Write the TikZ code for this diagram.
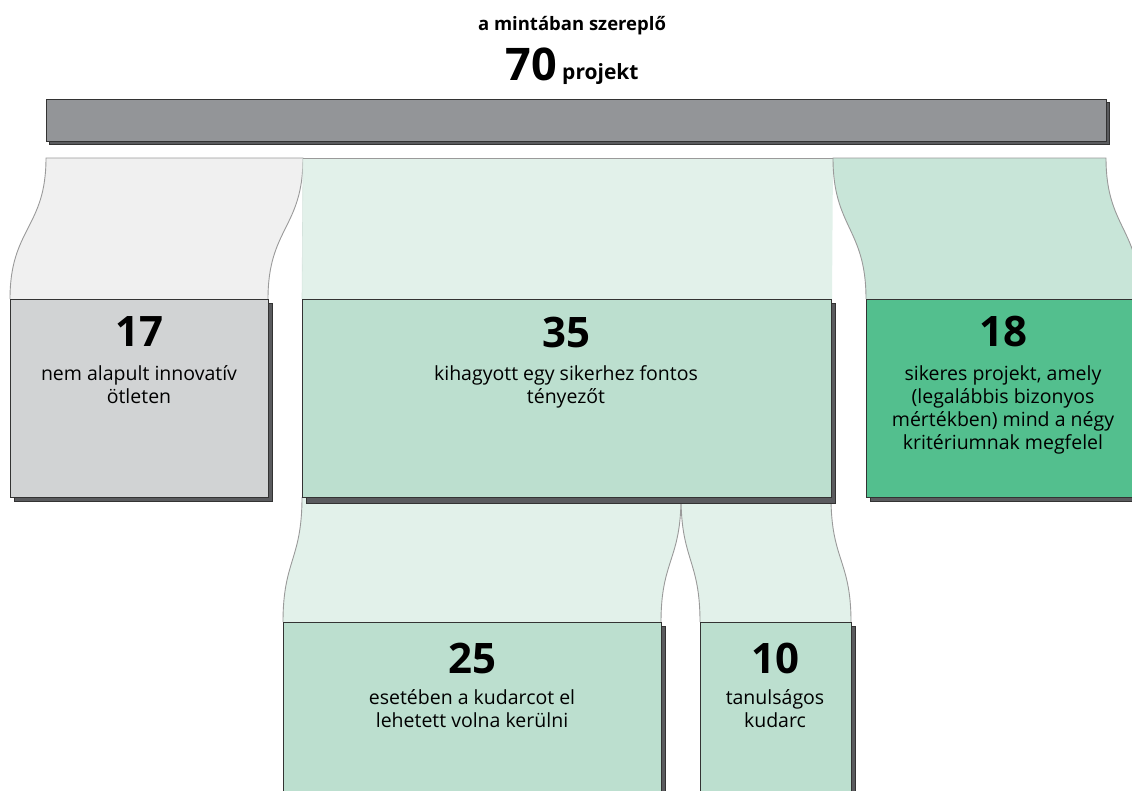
\documentclass[tikz,border=0pt]{standalone}
\usepackage{fontspec}
\setmainfont{Open Sans}
\definecolor{barfill}{HTML}{939598}
\definecolor{edgedark}{HTML}{333333}
\definecolor{shadowc}{HTML}{5A5B5E}
\definecolor{bandgray}{HTML}{F0F0F0}
\definecolor{bandgreen}{HTML}{E2F1EA}
\definecolor{bandgreenB}{HTML}{C8E5D8}
\definecolor{boxgray}{HTML}{D1D3D4}
\definecolor{boxgreen}{HTML}{BCDFCF}
\definecolor{boxdeep}{HTML}{53BF8E}
\definecolor{bandedge}{HTML}{9A9A9A}
\tikzset{
  shadowbox/.style={fill=shadowc, draw=edgedark, line width=0.8pt},
  mainbox/.style={draw=edgedark, line width=1.2pt},
  bandline/.style={draw=bandedge, line width=0.9pt},
  numtxt/.style={font=\fontsize{42}{42}\selectfont\bfseries, inner sep=0pt},
  desctxt/.style={font=\fontsize{19.5}{23.3}\selectfont, align=center, inner sep=0pt, anchor=north},
}
\begin{document}
\begin{tikzpicture}[x=1pt,y=-1pt]
\useasboundingbox (0,0) rectangle (1132,790);
\clip (0,0) rectangle (1132,790);
% title
\node[font=\fontsize{18.5}{19}\selectfont\bfseries, inner sep=0pt] (title) at (572,26) {a mintában szereplő};
\node[font=\fontsize{45}{45}\selectfont\bfseries, inner sep=0pt, anchor=base east] (seventy) at (557,80) {70};
\node[font=\fontsize{21}{21}\selectfont\bfseries, inner sep=0pt, anchor=base west] (projekt) at (562,79) {projekt};
% top bar
\fill[shadowbox] (49,102) rectangle (1109,144);
\node[mainbox, fill=barfill, minimum width=1060pt, minimum height=42pt, inner sep=0pt, anchor=north west] (bar) at (46,99) {};
% upper bands
\coordinate (bA) at (46,158); \coordinate (bB) at (303,158);
\coordinate (bC) at (833,158); \coordinate (bD) at (1106,158);
\fill[bandgray] (bA) .. controls (46,228) and (10,228) .. (10,299) -- (268,299) .. controls (268,228) and (303,228) .. (bB) -- cycle;
\draw[bandline] (10,299) .. controls (10,228) and (46,228) .. (bA) -- (bB) .. controls (303,228) and (268,228) .. (268,299);
\fill[bandgreen] (bB) -- (302,299) -- (832,299) -- (bC) -- cycle;
\draw[draw=bandgreenB!80!gray!60, line width=0.6pt] (bB) -- (302,299);
\draw[bandline] (bB) -- (bC);
\fill[bandgreenB] (bC) .. controls (833,228) and (866,228) .. (866,299) -- (1140,299) .. controls (1140,228) and (1106,228) .. (bD) -- cycle;
\draw[bandline] (866,299) .. controls (866,228) and (833,228) .. (bC) -- (bD) .. controls (1106,228) and (1140,228) .. (1140,299);
% lower bands
\coordinate (lA) at (302,497); \coordinate (lB) at (681,497); \coordinate (lC) at (831,497);
\fill[bandgreen] (lA) .. controls (302,560) and (283,560) .. (283,622) -- (661,622) .. controls (661,560) and (681,560) .. (lB) -- cycle;
\fill[bandgreen] (lB) .. controls (681,560) and (700,560) .. (700,622) -- (851,622) .. controls (851,560) and (831,560) .. (lC) -- cycle;
\draw[bandline] (lA) .. controls (302,560) and (283,560) .. (283,622);
\draw[bandline] (661,622) .. controls (661,560) and (681,560) .. (lB) .. controls (681,560) and (700,560) .. (700,622);
\draw[bandline] (851,622) .. controls (851,560) and (831,560) .. (lC);
% boxes row 1
\fill[shadowbox] (14,303) rectangle (272,501);
\node[mainbox, fill=boxgray, minimum width=258pt, minimum height=198pt, inner sep=0pt, anchor=north west] (b17) at (10,299) {};
\fill[shadowbox] (306,303) rectangle (835,503);
\node[mainbox, fill=boxgreen, minimum width=529pt, minimum height=198pt, inner sep=0pt, anchor=north west] (b35) at (302,299) {};
\fill[shadowbox] (870,303) rectangle (1140,501);
\node[mainbox, fill=boxdeep, minimum width=274pt, minimum height=198pt, inner sep=0pt, anchor=north west] (b18) at (866,299) {};
% boxes row 2
\fill[shadowbox] (287,626) rectangle (665,800);
\node[mainbox, fill=boxgreen, minimum width=378pt, minimum height=180pt, inner sep=0pt, anchor=north west] (b25) at (283,622) {};
\fill[shadowbox] (704,626) rectangle (855,800);
\node[mainbox, fill=boxgreen, minimum width=151pt, minimum height=180pt, inner sep=0pt, anchor=north west] (b10) at (700,622) {};
% texts
\node[numtxt] (n17) at (139,332) {17};
\node[desctxt] (d17) at (139,365) {nem alapult innovatív\\ötleten};
\node[numtxt] (n35) at (566,332) {35};
\node[desctxt] (d35) at (566,365) {kihagyott egy sikerhez fontos\\tényezőt};
\node[numtxt] (n18) at (1003,332) {18};
\node[desctxt] (d18) at (1003,365) {sikeres projekt, amely\\(legalábbis bizonyos\\mértékben) mind a négy\\kritériumnak megfelel};
\node[numtxt] (n25) at (472,658) {25};
\node[desctxt] (d25) at (472,689) {esetében a kudarcot el\\lehetett volna kerülni};
\node[numtxt] (n10) at (775,658) {10};
\node[desctxt] (d10) at (775,689) {tanulságos\\kudarc};
\end{tikzpicture}
\end{document}
